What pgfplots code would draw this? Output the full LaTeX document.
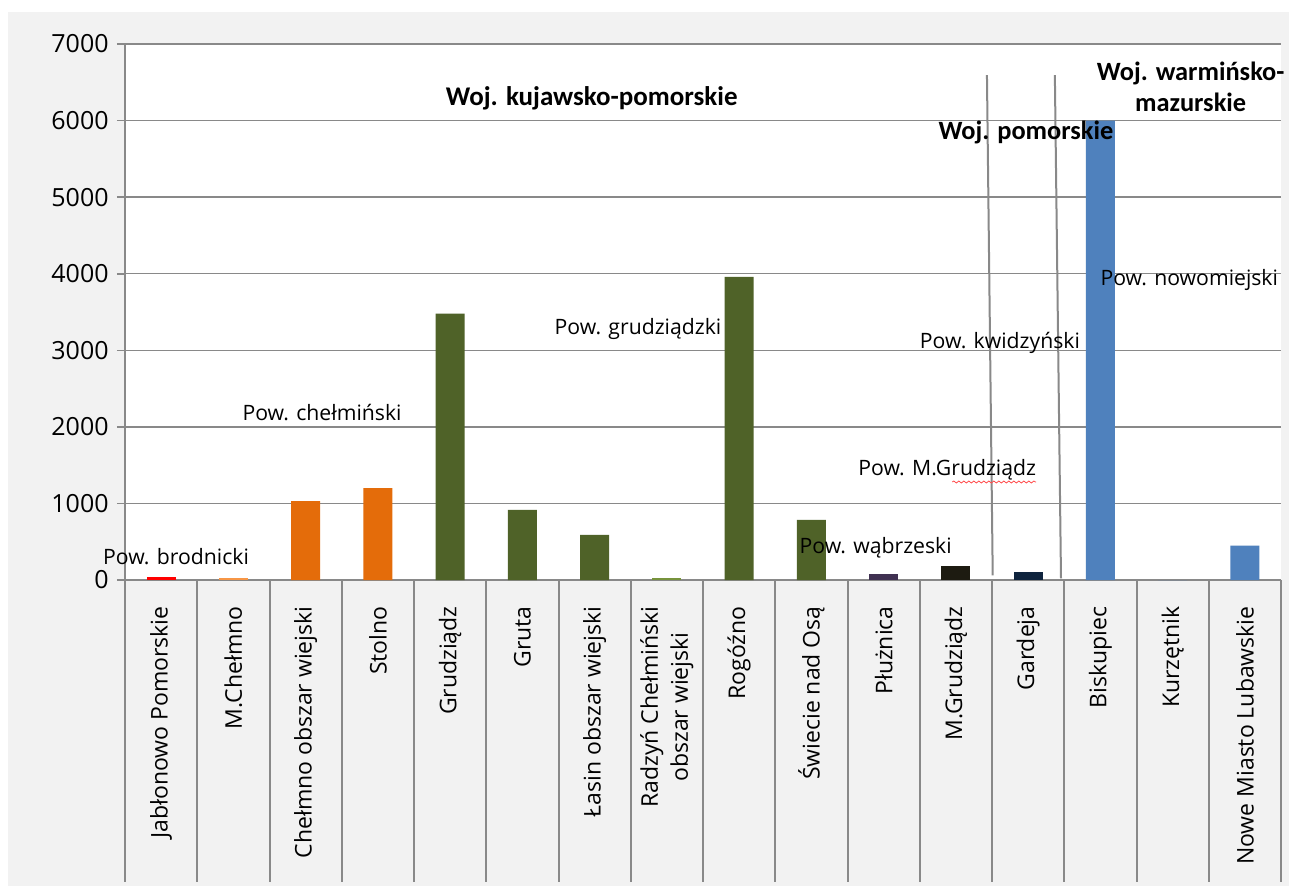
\documentclass[border=0pt]{standalone}
\usepackage{pgfplots}
\pgfplotsset{compat=1.18}
\usepackage{fontspec}
\setmainfont{Open Sans}
\newfontfamily\carlito{Carlito}
\usetikzlibrary{decorations.pathmorphing}
\definecolor{axgray}{HTML}{898989}
\definecolor{bggray}{HTML}{F2F2F2}
\definecolor{cred}{HTML}{FF0000}
\definecolor{clorange}{HTML}{F79646}
\definecolor{corange}{HTML}{E46C0A}
\definecolor{colive}{HTML}{4F6228}
\definecolor{clolive}{HTML}{77933C}
\definecolor{cpurple}{HTML}{403152}
\definecolor{cdark}{HTML}{1D1B11}
\definecolor{cnavy}{HTML}{0F243E}
\definecolor{cblue}{HTML}{4F81BD}
\begin{document}
\begin{tikzpicture}
\path[fill=white] (-62.5pt,-155pt) rectangle (582pt,290pt);
\fill[bggray] (-58.5pt,-153pt) rectangle (582pt,284pt);
\begin{axis}[
  at={(0pt,0pt)}, anchor=south west,
  scale only axis, width=578pt, height=268pt,
  xmin=-0.5, xmax=15.5, ymin=0, ymax=7000,
  ybar, bar width=14.5pt, bar shift=0pt,
  axis background/.style={fill=white},
  axis lines*=left,
  axis line style={draw=axgray, line width=1pt, -},
  tick align=outside,
  major tick length=4pt,
  ytick={0,1000,...,7000},
  yticklabels={0,1000,2000,3000,4000,5000,6000,7000},
  ytick style={draw=axgray, line width=0.8pt},
  yticklabel style={font=\fontsize{12.5}{14}\selectfont, inner sep=0pt, xshift=-4pt},
  ymajorgrids,
  grid style={draw=axgray, line width=0.7pt},
  xtick={0,...,15},
  xtick style={draw=none},
  xticklabels={Jabłonowo Pomorskie, M.Chełmno, Chełmno obszar wiejski, Stolno, Grudziądz, Gruta, Łasin obszar wiejski, {Radzyń Chełmiński\\obszar wiejski}, Rogóźno, Świecie nad Osą, Płużnica, M.Grudziądz, Gardeja, Biskupiec, Kurzętnik, Nowe Miasto Lubawskie},
  xticklabel style={font=\fontsize{11.5}{15}\selectfont, rotate=90, anchor=east, align=center, inner sep=0pt},
  xticklabel shift=9pt,
  clip=false,
]
\addplot[fill=cred, draw=none] coordinates {(0,35)};
\addplot[fill=clorange, draw=none] coordinates {(1,22)};
\addplot[fill=corange, draw=none] coordinates {(2,1030) (3,1200)};
\addplot[fill=colive, draw=none] coordinates {(4,3480) (5,915) (6,590) (8,3960) (9,785)};
\addplot[fill=clolive, draw=none] coordinates {(7,25)};
\addplot[fill=cpurple, draw=none] coordinates {(10,80)};
\addplot[fill=cdark, draw=none] coordinates {(11,185)};
\addplot[fill=cnavy, draw=none] coordinates {(12,105)};
\addplot[fill=cblue, draw=none] coordinates {(13,6000) (14,0) (15,450)};

\pgfplotsinvokeforeach{-0.5,0.5,1.5,2.5,3.5,4.5,5.5,6.5,7.5,8.5,9.5,10.5,11.5,12.5,13.5,14.5,15.5}{
  \draw[draw=axgray, line width=1pt] (axis cs:#1,0) -- ++(0pt,-151pt);
}

\draw[draw=axgray, line width=1pt] (axis cs:11.43,6595) -- (axis cs:11.51,60);
\draw[draw=axgray, line width=1pt] (axis cs:12.37,6595) -- (axis cs:12.455,20);

\node[font=\carlito\bfseries\fontsize{13.5}{15}\selectfont] at (axis cs:5.96,6295) {Woj. kujawsko-pomorskie};
\node[font=\carlito\bfseries\fontsize{13.2}{15}\selectfont] at (axis cs:11.97,5851) {Woj. pomorskie};
\node[font=\carlito\bfseries\fontsize{13.2}{15.5}\selectfont, align=center] at (axis cs:14.25,6438) {Woj. warmińsko-\\mazurskie};

\node[font=\fontsize{10.6}{12}\selectfont] at (axis cs:0.206,300) {Pow. brodnicki};
\node[font=\fontsize{10.6}{12}\selectfont] at (axis cs:2.227,2181) {Pow. chełmiński};
\node[font=\fontsize{10.6}{12}\selectfont] at (axis cs:6.60,3278) {Pow. grudziądzki};
\node[font=\fontsize{10.6}{12}\selectfont] at (axis cs:9.89,418) {Pow. wąbrzeski};
\node[font=\fontsize{10.6}{12}\selectfont] at (axis cs:10.88,1437) {Pow. M.Grudziądz};
\node[font=\fontsize{10.6}{12}\selectfont] at (axis cs:11.61,3095) {Pow. kwidzyński};
\node[font=\fontsize{10.6}{12}\selectfont] at (axis cs:14.23,3918) {Pow. nowomiejski};
\draw[red!70, line width=0.4pt, decorate, decoration={snake, amplitude=0.5pt, segment length=2.5pt}] (axis cs:10.95,1280) -- (axis cs:12.11,1280);
\end{axis}
\pgfresetboundingbox
\path (-62.5pt,-155pt) rectangle (582pt,290pt);
\end{tikzpicture}
\end{document}
